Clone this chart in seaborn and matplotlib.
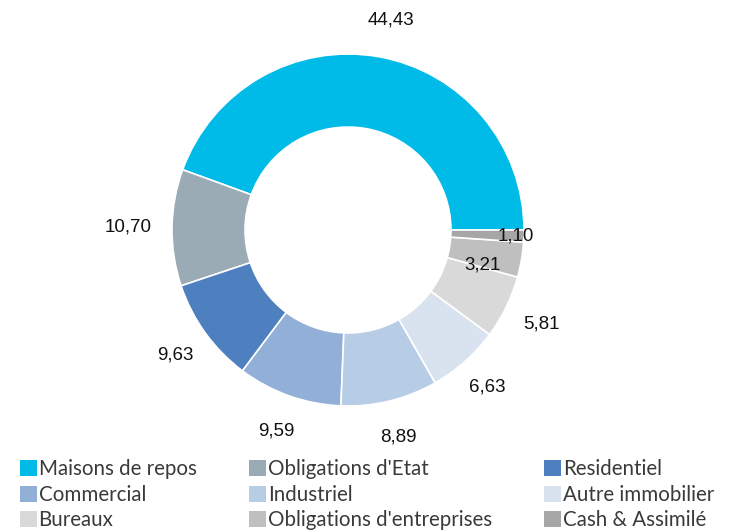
import matplotlib
matplotlib.use("Agg")
import matplotlib.pyplot as plt
import seaborn as sns
from matplotlib.patches import Patch
import numpy as np

categories = ["Maisons de repos", "Obligations d'Etat", "Residentiel",
              "Commercial", "Industriel", "Autre immobilier",
              "Bureaux", "Obligations d'entreprises", "Cash & Assimilé"]
values = [44.43, 10.70, 9.63, 9.59, 8.89, 6.63, 5.81, 3.21, 1.10]
colors = ["#00BBE8", "#9AABB5", "#4E7FBE", "#92AFD7", "#B7CCE5",
          "#D9E3EF", "#D9D9D9", "#BFBFBF", "#A6A6A6"]
# radial distance of each value label (relative to the outer radius)
label_radius = [1.22, 1.25, 1.21, 1.21, 1.21, 1.19, 1.22, 0.79, 0.955]
# angular nudge of each value label away from the wedge middle (degrees)
label_shift = [-1.5, 0, 0, 0, 0, 0, 0, -5, 0]

sns.set_theme(style="white")
plt.rcParams["font.family"] = ["Liberation Sans", "DejaVu Sans"]

fig = plt.figure(figsize=(7.29, 5.30), dpi=100)
ax = fig.add_axes([172 / 729, 124 / 530, 352 / 729, 352 / 530])

wedges, _ = ax.pie(values, colors=colors, startangle=0, counterclock=True,
                   radius=1.0,
                   wedgeprops=dict(width=0.415, edgecolor="white", linewidth=1.2))
ax.set_xlim(-1, 1)
ax.set_ylim(-1, 1)
ax.set_aspect("equal")
ax.axis("off")

for w, v, r, s in zip(wedges, values, label_radius, label_shift):
    mid = np.deg2rad((w.theta1 + w.theta2) / 2 + s)
    ax.text(r * np.cos(mid), r * np.sin(mid), f"{v:.2f}".replace(".", ","),
            ha="center", va="center", fontsize=13.5, color="#111111",
            clip_on=False)

order = [0, 3, 6, 1, 4, 7, 2, 5, 8]
handles = [Patch(facecolor=colors[i], edgecolor="none") for i in order]
labels = [categories[i] for i in order]
fig.legend(handles, labels, ncol=3, loc="lower left",
           bbox_to_anchor=(0.027, 0.0), frameon=False,
           prop={"family": ["Lato", "DejaVu Sans"], "size": 14.8},
           handlelength=0.82, handleheight=0.82, handletextpad=0.1,
           columnspacing=2.55, labelspacing=0.26, labelcolor="#3a3a3a",
           borderaxespad=0.0, borderpad=0.0)

fig.savefig("out.png", dpi=100, facecolor="white")
